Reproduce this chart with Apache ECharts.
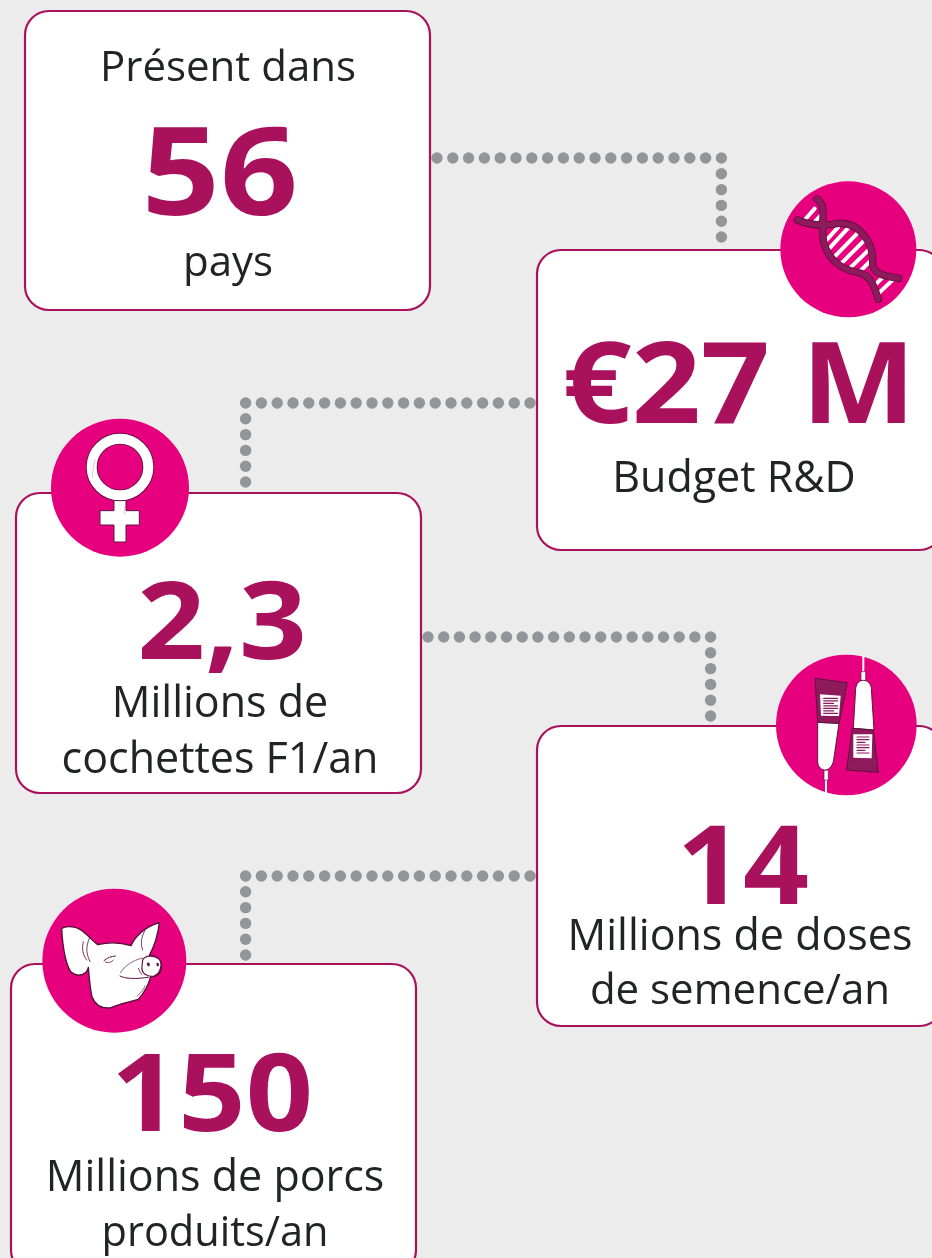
<!DOCTYPE html>
<html>
<head>
<meta charset="utf-8">
<title>Chiffres clés</title>
<script src="https://cdn.jsdelivr.net/npm/echarts@6/dist/echarts.min.js"></script>
<style>
  html, body { margin: 0; padding: 0; background: #ececec; }
  #main { width: 932px; height: 1258px; }
</style>
</head>
<body>
<div id="main"></div>
<script>
// values and captions of the five cards
var figures = ['56', '€27 M', '2,3', '14', '150'];
var captionsAbove = ['Présent dans', '', '', '', ''];
var captionsBelow = [
  ['pays'],
  ['Budget R&D'],
  ['Millions de', 'cochettes F1/an'],
  ['Millions de doses', 'de semence/an'],
  ['Millions de porcs', 'produits/an']
];
var dotCountsAcross = [19, 19, 19, 19];
var dotCountsDown = [5, 5, 5, 5];

var PLUM = '#a9115d';
var PINK = '#e6007e';
var DARK = '#8e1a5c';
var LINE = '#5e1240';
var INK = '#222326';
var GREY = '#949599';
var FONT = '"Open Sans", "Noto Sans", sans-serif';

var layout = [
  {x: 25, y: 11, w: 405, h: 299, cx: 220, fy: 180, fs: 122, sx: 1.12, tx: 228, above: 69, below: [264], cs: [42]},
  {x: 537, y: 250, w: 406, h: 300, cx: 739, fy: 391, fs: 113, sx: 1.07, tx: 734, below: [480], cs: [43]},
  {x: 16, y: 493, w: 405, h: 300, cx: 222, fy: 628, fs: 108, sx: 1.1, tx: 220, below: [705, 761], cs: [43, 43]},
  {x: 537, y: 726, w: 406, h: 300, cx: 743, fy: 873, fs: 110, sx: 1.05, tx: 740, below: [938, 992], cs: [43, 42]},
  {x: 11, y: 964, w: 405, h: 310, cx: 212, fy: 1100, fs: 108, sx: 1.09, tx: 215, below: [1179, 1234], cs: [43, 41.5]}
];
var connectors = [
  {x0: 437, y0: 158, dx: 15.8, dy: 15.8},
  {x0: 530, y0: 403, dx: -15.8, dy: 15.8},
  {x0: 428, y0: 637, dx: 15.7, dy: 15.8},
  {x0: 530, y0: 876, dx: -15.8, dy: 15.8}
];

var items = [];

function addText(text, x, y, size, weight, color, sx) {
  items.push({
    type: 'text',
    x: x, y: y, scaleX: sx || 1,
    style: {
      x: 0, y: 0, text: text, fill: color,
      fontFamily: FONT, fontSize: size, fontWeight: weight,
      textAlign: 'center', textVerticalAlign: 'middle'
    }
  });
}

// dotted connectors
connectors.forEach(function (c, i) {
  var px = c.x0, py = c.y0;
  for (var a = 0; a < dotCountsAcross[i]; a++) {
    px = c.x0 + a * c.dx;
    items.push({type: 'circle', shape: {cx: px, cy: py, r: 5.7}, style: {fill: GREY}});
  }
  for (var d = 1; d <= dotCountsDown[i]; d++) {
    items.push({type: 'circle', shape: {cx: px, cy: py + d * c.dy, r: 5.7}, style: {fill: GREY}});
  }
});

// cards
layout.forEach(function (c, i) {
  items.push({
    type: 'rect',
    shape: {x: c.x, y: c.y, width: c.w, height: c.h, r: 24},
    style: {fill: '#ffffff', stroke: PLUM, lineWidth: 2.2}
  });
  addText(figures[i], c.cx, c.fy, c.fs, 700, PLUM, c.sx);
  if (captionsAbove[i]) addText(captionsAbove[i], c.tx, c.above, c.cs[0], 400, INK);
  captionsBelow[i].forEach(function (line, k) {
    addText(line, c.tx, c.below[k], c.cs[k], 400, INK);
  });
});

// graphic has no plain path type, so each traced path gets its own shape class
var pathCount = 0;
function pathType(d) {
  var name = 'tracedPath' + (pathCount++);
  echarts.graphic.registerShape(name, echarts.graphic.extendPath(d, {}));
  return name;
}

// icons are traced in 3x crop coordinates, hence the scale of the groups
function icon(px, py, children) {
  items.push({type: 'group', x: px, y: py, scaleX: 1 / 3, scaleY: 1 / 3, children: children});
}
function line(d, color, width) {
  return {type: pathType(d), style: {fill: 'none', stroke: color, lineWidth: width, lineCap: 'round', lineJoin: 'round'}};
}
function blob(d, fill, stroke, width) {
  return {type: pathType(d), style: {fill: fill, stroke: stroke || 'none', lineWidth: width || 0, lineJoin: 'round'}};
}
function badge(cx, cy, r) {
  return {type: 'circle', shape: {cx: cx, cy: cy, r: r}, style: {fill: PINK}};
}

// DNA
var dnaStripes = [
  'M104 150L134 116', 'M132 158L158 130',
  'M166 214L204 172', 'M172 242L236 172', 'M188 266L262 190', 'M208 286L286 208',
  'M232 302L304 232', 'M262 312L308 266',
  'M314 346L342 318', 'M322 374L372 326'
].map(function (d) { return line(d, '#ffffff', 12); });
var strandA = 'M141 87C170 105 155 150 158 195C162 255 205 298 262 307C305 315 312 350 325 388';
var strandB = 'M82 150C125 168 165 168 205 160C265 155 312 215 308 280C306 312 345 318 386 325';
icon(770, 170, [badge(235, 238, 204)].concat(dnaStripes, [
  line(strandA, LINE, 22),
  line(strandB, LINE, 22),
  line(strandA, DARK, 17),
  line(strandB, DARK, 17)
]));

// female symbol
icon(40, 410, [
  badge(240, 233, 207),
  blob('M222 262L222 302L180 302L180 345L222 345L222 396L258 396L258 345L298 345L298 302L258 302L258 262Z', '#ffffff', LINE, 3),
  {type: 'circle', shape: {cx: 240, cy: 171, r: 85}, style: {fill: 'none', stroke: LINE, lineWidth: 35}},
  {type: 'circle', shape: {cx: 240, cy: 171, r: 85}, style: {fill: 'none', stroke: '#ffffff', lineWidth: 30}},
  line('M225 266L255 266', '#ffffff', 8),
  line('M158 200C158 180 160 165 166 150', '#d8a6c4', 2),
  line('M254 290L254 312', '#d8a6c4', 2)
]);

// semen tubes
function labelLines(x0, x1, y0, n, step) {
  var out = [];
  for (var k = 0; k < n; k++) {
    var end = k % 3 === 2 ? x1 - 12 : x1;
    out.push(line('M' + x0 + ' ' + (y0 + k * step) + 'L' + end + ' ' + (y0 + k * step), DARK, 3.5));
  }
  return out;
}
icon(765, 645, [
  badge(244, 240, 211),
  line('M183 400L183 443', '#ffffff', 6),
  line('M295 36L295 84', '#ffffff', 6),
  blob('M177 375L190 375L190 405L177 405Z', '#ffffff', LINE, 2),
  blob('M288 80L302 80L302 108L288 108Z', '#ffffff', LINE, 2),
  blob('M158 232L222 235L206 345C202 368 188 376 178 375C165 373 157 362 158 345Z', '#ffffff', LINE, 3),
  blob('M150 100L247 113L222 235L158 232Z', DARK, LINE, 3),
  blob('M165 148L227 152L222 213L168 212Z', '#ffffff'),
  blob('M265 250L272 130C275 112 285 106 295 106C308 106 318 116 319 130L327 255Z', '#ffffff', LINE, 3),
  blob('M262 250L325 255L340 382L245 375Z', DARK, LINE, 3),
  blob('M265 268L322 268L320 340L265 338Z', '#ffffff')
].concat(labelLines(176, 218, 160, 7, 7.5), labelLines(276, 312, 276, 7, 8)));

// pig head
icon(30, 880, [
  badge(253, 242, 216),
  blob('M95 145C110 136 145 138 165 160C180 172 190 185 203 194C240 185 275 188 303 197C315 170 345 140 388 128C385 155 378 190 358 226C380 226 396 240 394 262C392 282 378 292 362 290C358 305 350 330 325 358C300 366 270 370 240 384C215 385 195 375 186 350C180 325 178 300 175 262C170 285 145 292 125 278C110 262 98 210 95 145Z', '#ffffff', '#4f0f36', 4),
  blob('M338 240C345 226 372 224 388 238C398 252 392 280 372 288C352 292 332 280 336 258Z', '#ffffff', LINE, 3.5),
  line('M178 175C170 195 165 215 180 245', LINE, 2.5),
  line('M160 185C155 205 158 225 170 240', LINE, 2.5),
  line('M345 150C335 170 330 190 338 210', LINE, 2.5),
  line('M222 242C232 232 244 230 256 228', LINE, 3),
  line('M226 246C234 250 244 248 250 240', LINE, 2.5),
  line('M270 288C285 297 320 297 355 292', LINE, 3),
  line('M272 278C282 258 310 240 338 234', LINE, 2),
  line('M325 265C328 272 330 280 336 284', LINE, 2.5),
  line('M322 348C332 338 340 330 345 318', LINE, 2),
  blob('M351 249C356 245 361 250 359 257C355 262 349 256 351 249Z', LINE),
  blob('M380 249C385 246 388 252 386 258C382 261 377 256 380 249Z', LINE)
]);

var chart = echarts.init(document.getElementById('main'));
chart.setOption({
  backgroundColor: '#ececec',
  animation: false,
  graphic: {elements: items}
});
</script>
</body>
</html>
